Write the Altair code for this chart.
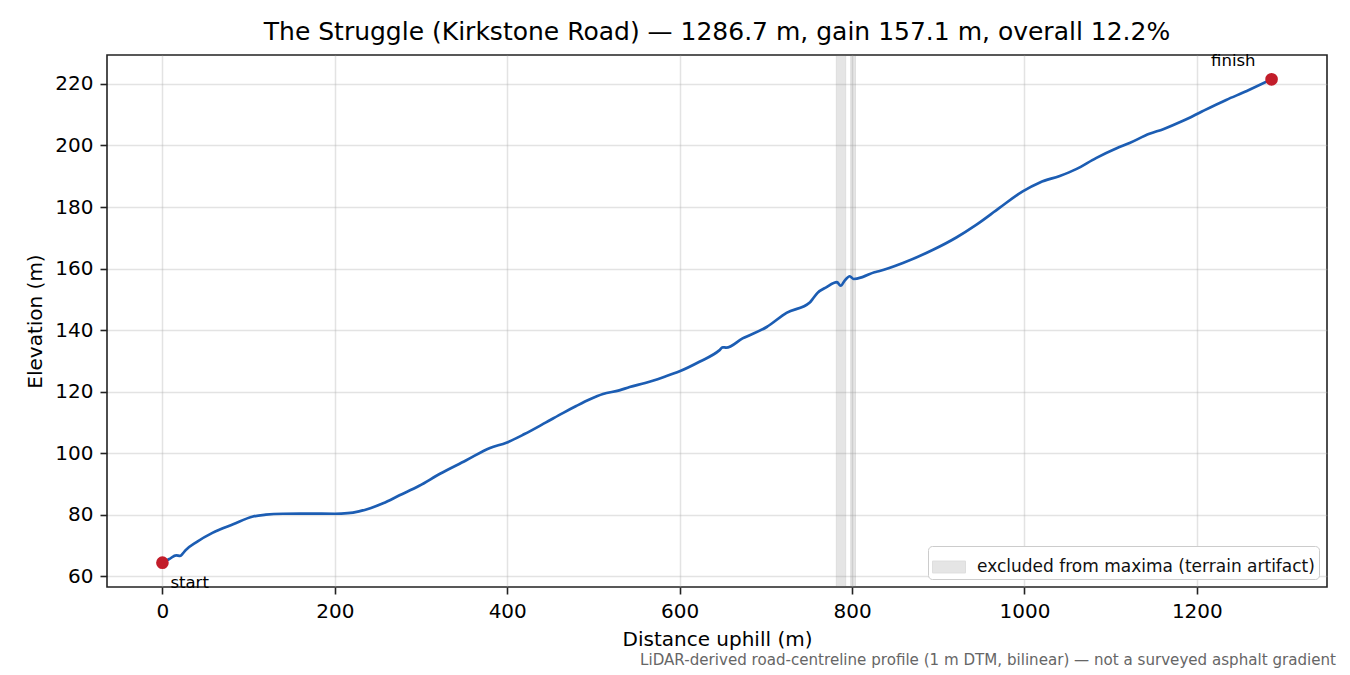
"""Elevation profile of The Struggle (Kirkstone Road), matplotlib-like look."""

import altair as alt
import pandas as pd

TITLE = "The Struggle (Kirkstone Road) — 1286.7 m, gain 157.1 m, overall 12.2%"
NOTE = "LiDAR-derived road-centreline profile (1 m DTM, bilinear) — not a surveyed asphalt gradient"
FONT = "DejaVu Sans"

# profile
distance_m = [
    0, 8, 16, 20.5, 24, 27, 40, 58, 82, 105, 120, 140, 160, 200, 215, 228,
    242, 256, 275, 298, 322, 352, 380, 399, 420, 445, 465, 480, 496, 511, 530,
    542, 560, 581, 600, 623, 646, 650, 654, 673, 701, 724, 751, 754, 760, 770,
    782.5, 786.8, 791.5, 797.3, 801.9, 812.7, 826, 832, 859, 894, 921, 944,
    971, 998, 1018, 1041, 1060, 1083, 1107, 1122, 1145, 1161, 1184, 1207,
    1234, 1258, 1286.7,
]
elevation_m = [
    64.4, 65.6, 66.8, 66.6, 67.5, 68.5, 71.2, 74.1, 76.9, 79.4, 80.0, 80.3,
    80.35, 80.3, 80.5, 81.1, 82.2, 83.7, 86.3, 89.4, 93.3, 97.6, 101.7, 103.4,
    106.2, 110.0, 113.1, 115.3, 117.5, 119.2, 120.4, 121.5, 122.8, 124.7,
    126.6, 129.7, 133.4, 134.4, 134.3, 137.3, 141.0, 145.6, 149.0, 150.0,
    152.1, 153.9, 155.6, 154.4, 156.1, 157.5, 156.6, 157.3, 158.8, 159.2,
    161.8, 166.1, 170.1, 174.2, 179.7, 185.1, 188.0, 190.1, 192.3, 195.9,
    199.1, 200.8, 203.8, 205.3, 208.0, 211.2, 214.8, 217.7, 221.5,
]

# excluded stretches (terrain artifact)
band_start = [781.8, 798.5]
band_end = [792.6, 804.0]
BAND_LABEL = "excluded from maxima (terrain artifact)"

end_names = ["start", "finish"]
end_dist = [0, 1286.7]
end_elev = [64.4, 221.5]

x_ticks = [0, 200, 400, 600, 800, 1000, 1200]
y_ticks = [60, 80, 100, 120, 140, 160, 180, 200, 220]

profile = pd.DataFrame({"dist": distance_m, "elev": elevation_m})
bands = pd.DataFrame(
    {"x0": band_start, "x1": band_end, "label": [BAND_LABEL] * len(band_start)}
)
ends = pd.DataFrame({"name": end_names, "dist": end_dist, "elev": end_elev})

x_scale = alt.Scale(domain=[-64.3, 1351.0], nice=False, zero=False)
y_scale = alt.Scale(domain=[56.5, 229.4], nice=False, zero=False)

band_layer = (
    alt.Chart(bands)
    .mark_rect(opacity=0.2, stroke="#606060", strokeWidth=1)
    .encode(
        x=alt.X(
            "x0:Q",
            scale=x_scale,
            axis=alt.Axis(values=x_ticks, format="d", title="Distance uphill (m)"),
        ),
        x2="x1:Q",
        color=alt.Color(
            "label:N",
            scale=alt.Scale(range=["#808080"]),
            legend=alt.Legend(
                title=None,
                orient="bottom-right",
                offset=8,
                symbolType="M-1,-0.36H1V0.36H-1Z",
                symbolSize=1089,
                symbolOpacity=0.2,
                symbolStrokeColor="#606060",
                symbolStrokeWidth=1,
            ),
        ),
    )
)

line_layer = (
    alt.Chart(profile)
    .mark_line(color="#1c5db3", strokeWidth=2.7, interpolate="monotone")
    .encode(
        x=alt.X("dist:Q", scale=x_scale),
        y=alt.Y(
            "elev:Q",
            scale=y_scale,
            axis=alt.Axis(values=y_ticks, title="Elevation (m)"),
        ),
    )
)

end_points = (
    alt.Chart(ends)
    .mark_circle(color="#c21d2a", size=160, opacity=1)
    .encode(x=alt.X("dist:Q", scale=x_scale), y=alt.Y("elev:Q", scale=y_scale))
)

start_text = (
    alt.Chart(ends)
    .transform_filter(alt.datum.name == "start")
    .mark_text(align="left", baseline="middle", dx=8, dy=20, fontSize=16.5, font=FONT)
    .encode(x=alt.X("dist:Q", scale=x_scale), y=alt.Y("elev:Q", scale=y_scale), text="name:N")
)

finish_text = (
    alt.Chart(ends)
    .transform_filter(alt.datum.name == "finish")
    .mark_text(align="right", baseline="middle", dx=-16, dy=-18, fontSize=16.5, font=FONT)
    .encode(x=alt.X("dist:Q", scale=x_scale), y=alt.Y("elev:Q", scale=y_scale), text="name:N")
)

note_text = (
    alt.Chart(pd.DataFrame({"t": [NOTE]}))
    .mark_text(align="right", baseline="middle", fontSize=15.1, font=FONT, color="#666666")
    .encode(x=alt.value(1229), y=alt.value(605), text="t:N")
)

chart = (
    alt.layer(band_layer, line_layer, end_points, start_text, finish_text, note_text)
    .properties(
        width=1220,
        height=532,
        autosize=alt.AutoSizeParams(type="none"),
        padding={"left": 99, "top": 47, "right": 15, "bottom": 86},
        title=alt.TitleParams(
            TITLE, font=FONT, fontSize=25, fontWeight="normal", color="black", offset=8
        ),
    )
    .configure_view(stroke="#222222", strokeWidth=1.6)
    .configure_axis(
        domain=False,
        grid=True,
        gridColor="#b0b0b0",
        gridOpacity=0.35,
        gridWidth=1.5,
        ticks=True,
        tickColor="#222222",
        tickWidth=1.6,
        tickSize=7,
        labelFont=FONT,
        labelFontSize=20,
        labelColor="black",
        labelPadding=7,
        titleFont=FONT,
        titleFontSize=20,
        titleFontWeight="normal",
        titleColor="black",
    )
    .configure_axisX(titlePadding=8, labelFlush=False)
    .configure_axisY(titlePadding=9)
    .configure_legend(
        labelFont=FONT,
        labelFontSize=17,
        labelColor="#111111",
        labelLimit=600,
        fillColor="white",
        strokeColor="#cccccc",
        cornerRadius=4,
        padding=4,
        labelOffset=11,
    )
)

chart.save("out.html", embed_options={"renderer": "svg", "actions": False})
